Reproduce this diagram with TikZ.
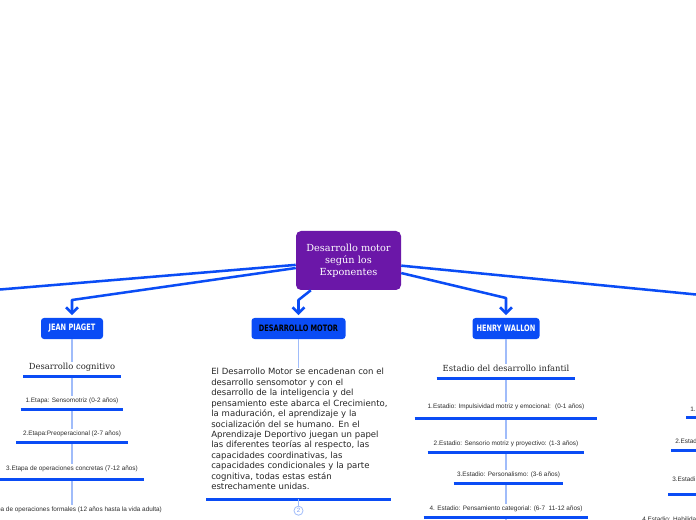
\documentclass[tikz,border=0pt]{standalone}
\usepackage{fontspec}
\setmainfont{DejaVu Serif}
\newfontfamily\itemfont{Liberation Sans}
\newfontfamily\bodyfont{DejaVu Sans}
\newfontfamily\capsfont[FakeStretch=0.75]{DejaVu Sans}
\usetikzlibrary{arrows.meta}

\definecolor{hubpurple}{RGB}{107,23,168}
\definecolor{mapblue}{RGB}{10,76,245}
\definecolor{stemblue}{RGB}{160,188,250}
\definecolor{badgeblue}{RGB}{120,155,245}
\definecolor{inkgray}{RGB}{45,45,45}

\tikzset{
	hub/.style={fill=hubpurple, rounded corners=3.75pt, text=white, align=center, minimum width=78.75pt, minimum height=44.25pt, inner sep=2pt, font=\fontsize{7.3}{9}\selectfont},
	author/.style={fill=mapblue, rounded corners=2.25pt, minimum height=15.75pt, inner xsep=2pt, text=white, font=\capsfont\bfseries\fontsize{6.6}{7}\selectfont},
	link/.style={draw=mapblue, line width=1.9pt, line join=round},
	pointer/.style={link, -{Straight Barb[length=4.5pt,width=9pt]}, shorten >=2pt},
	stem/.style={draw=stemblue, line width=0.8pt},
	uline/.style={draw=mapblue, line width=2.25pt},
	item/.style={anchor=south, inner xsep=0pt, inner ysep=1pt, text depth=3.5pt, text=inkgray, font=\itemfont\fontsize{4.8}{5.6}\selectfont},
	heading/.style={item, text=black!85, font=\fontsize{6.3}{7.5}\selectfont},
	cut/.style={item, anchor=south west, inner xsep=3pt, text width=40pt, align=left},
	body/.style={anchor=north west, inner sep=0pt, text width=148pt, align=left, text=black!85, font=\bodyfont\fontsize{6.4}{7.84}\selectfont},
	badge/.style={circle, draw=stemblue, line width=0.6pt, inner sep=0pt, minimum size=6.8pt, text=badgeblue, font=\itemfont\fontsize{4.6}{4.6}\selectfont}
}

\begin{document}
\begin{tikzpicture}[x=0.75pt,y=0.75pt,yscale=-1,xscale=1]
	\useasboundingbox (0,0) rectangle (696,520);
	
	%Central topic
	\node[hub] (hub) at (348.5,260.5) {Desarrollo motor\\según los\\Exponentes};
	
	%Main branches
	\node[author, minimum width=46.5pt] (piaget) at (72,328.5) {JEAN PIAGET};
	\node[author, minimum width=70.5pt, text=black] (motor) at (298.5,328.5) {DESARROLLO MOTOR};
	\node[author, minimum width=50.25pt] (wallon) at (506,328.5) {HENRY WALLON};
	
	\coordinate (kneeP) at (72,300);
	\coordinate (kneeM) at (298.5,300);
	\coordinate (kneeW) at (506,298);
	\coordinate (offL) at (0,289.5);
	\coordinate (offR) at (696,294.5);
	
	\draw[link] (hub) -- (offL);
	\draw[link] (hub) -- (offR);
	\draw[pointer] (hub) -- (kneeP) -- (piaget);
	\draw[pointer] (hub) -- (kneeM) -- (motor);
	\draw[pointer] (hub) -- (kneeW) -- (wallon);
	
	% Piaget column
	\node[heading, minimum width=72.75pt] (cog) at (72,376) {Desarrollo cognitivo};
	\node[item, minimum width=76.5pt] (pa) at (72,409) {1.Etapa: Sensomotriz (0-2 años)};
	\node[item, minimum width=83.25pt] (pb) at (72,442) {2.Etapa:Preoperacional (2-7 años)};
	\node[item, minimum width=108pt, text depth=5.75pt] (pc) at (72,479.5) {3.Etapa de operaciones concretas (7-12 años)};
	\node[item] (pd) at (72,518) {4.Etapa de operaciones formales (12 años hasta la vida adulta)};
	
	\draw[stem] (piaget) -- (cog);
	\draw[stem] (cog) -- (pa);
	\draw[stem] (pa) -- (pb);
	\draw[stem] (pb) -- (pc);
	\draw[stem] (pc) -- (pd);
	
	% Desarrollo motor column
	\node[body] (body) at (211,368) {El Desarrollo Motor se encadenan con el\\
		desarrollo sensomotor y con el\\
		desarrollo de la inteligencia y del\\
		pensamiento este abarca el Crecimiento,\\
		la maduración, el aprendizaje y la\\
		socialización del se humano. En el\\
		Aprendizaje Deportivo juegan un papel\\
		las diferentes teorías al respecto, las\\
		capacidades coordinativas, las\\
		capacidades condicionales y la parte\\
		cognitiva, todas estas están\\
		estrechamente unidas.};
	\draw[uline] (206,499) -- (391,499);
	\coordinate (bodyfoot) at (298.5,499);
	\node[badge] (more) at (298.5,510.7) {2};
	
	\draw[stem] (motor) -- (motor |- body.north);
	\draw[stem] (bodyfoot) -- (more);
	
	% Wallon column
	\node[heading, minimum width=103.5pt] (wt) at (506,378) {Estadio del desarrollo infantil};
	\node[item, minimum width=136.5pt, text depth=5.75pt] (wa) at (506,418) {1.Estadio: Impulsividad motriz y emocional:~ (0-1 años)};
	\node[item, minimum width=117pt] (wb) at (506,452) {2.Estadio: Sensorio motriz y proyectivo: (1-3 años)};
	\node[item, minimum width=81.75pt] (wc) at (508.5,483) {3.Estadio: Personalismo: (3-6 años)};
	\node[item, minimum width=123pt] (wd) at (506,517) {4. Estadio: Pensamiento categorial: (6-7~ 11-12 años)};
	\coordinate (wnext) at (506,530);
	
	\draw[stem] (wallon) -- (wt);
	\draw[stem] (wt) -- (wa);
	\draw[stem] (wa) -- (wb);
	\draw[stem] (wb) -- (wb |- wc.north);
	\draw[stem] (wb |- wc.south) -- (wd);
	\draw[stem] (wd) -- (wnext);
	
	% Right column, cut by the edge
	\node[cut] (ra) at (686,417.7) {1.};
	\node[cut] (rb) at (671,450) {2.Estad};
	\node[cut, text depth=8pt] (rc) at (668,494) {3.Estadi};
	\node[item, anchor=base west, text depth=0pt] (rd) at (642,521.5) {4.Estadio: Habilida};
	
	% Underlines
	\foreach \n in {cog,pa,pb,pc,wt,wa,wb,wc,wd,ra,rb,rc}
		\draw[uline] (\n.south west) -- (\n.south east);
	
\end{tikzpicture}
\end{document}
